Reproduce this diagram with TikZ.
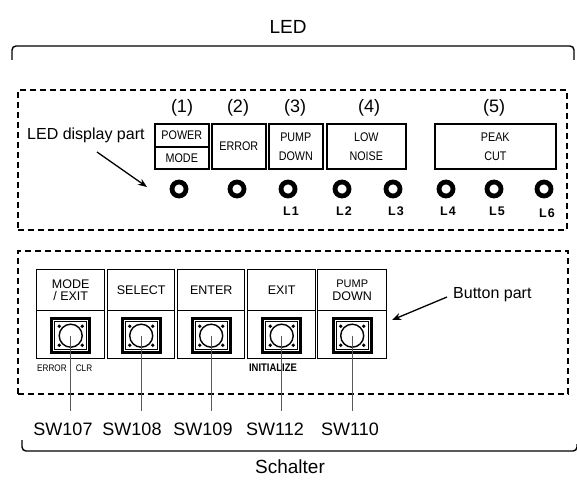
\documentclass[tikz,border=0pt]{standalone}
\usepackage{fontspec}
\setmainfont{Liberation Sans}
\newfontfamily\narrowfont[FakeStretch=0.86]{Liberation Sans}
\usetikzlibrary{arrows.meta}
\begin{document}
\begin{tikzpicture}[x=1pt,y=-1pt,
  dashbox/.style={draw, line width=2pt, dash pattern=on 6pt off 4pt, inner sep=0, anchor=north west},
  ledbox/.style={draw, line width=1.6pt, inner sep=0, anchor=north west, align=center, font=\narrowfont\fontsize{12.5}{19}\selectfont},
  num/.style={font=\fontsize{18}{20}\selectfont, inner sep=0},
  ring/.style={circle, draw, line width=4.8pt, minimum size=14pt, inner sep=0},
  lname/.style={font=\bfseries\fontsize{12.5}{14}\selectfont, inner sep=0},
  btnhead/.style={draw, line width=1.4pt, inner sep=0, anchor=north west, minimum height=41pt, align=center, font=\fontsize{12.5}{12.5}\selectfont},
  btnbody/.style={draw, line width=1.4pt, inner sep=0, anchor=north west, minimum height=48pt},
  keyouter/.style={draw, line width=2.8pt, minimum width=38pt, minimum height=34pt, inner sep=0},
  keyinner/.style={draw, line width=0.8pt, minimum width=32pt, minimum height=28pt, inner sep=0},
  keyring/.style={circle, draw, line width=1.4pt, minimum size=23pt, inner sep=0},
  swline/.style={draw=black!65, line width=1pt},
  swname/.style={font=\fontsize{18}{20}\selectfont, inner sep=0},
  bigtext/.style={font=\fontsize{19}{21}\selectfont, inner sep=0},
  midtext/.style={font=\fontsize{16}{18}\selectfont, inner sep=0},
  brace/.style={draw, line width=1.4pt, rounded corners=4pt},
  pointer/.style={draw, line width=1.3pt, -{Stealth[length=9pt,width=7pt]}}
]
\useasboundingbox (0,0) rectangle (577,481);

% top label and bracket
\node[bigtext] (ledtitle) at (288,27) {LED};
\draw[brace] (12,60) -- (12,46) -- (574,46) -- (574,60);

% LED display part
\node[dashbox, minimum width=549pt, minimum height=140pt] (ledpart) at (17,89) {};
\node[midtext, anchor=west] (ledlabel) at (27,135) {LED display part};
\coordinate (ledarrowstart) at (97,152);
\coordinate (ledarrowend) at (147,187);
\draw[pointer] (ledarrowstart) -- (ledarrowend);

\node[num] (n1) at (182,108) {(1)};
\node[num] (n2) at (238,108) {(2)};
\node[num] (n3) at (295,108) {(3)};
\node[num] (n4) at (369,108) {(4)};
\node[num] (n5) at (494,108) {(5)};

\node[ledbox, minimum width=54pt, minimum height=23pt] (power) at (154,123) {POWER};
\node[ledbox, minimum width=54pt, minimum height=22pt] (mode) at (154,146) {MODE};
\node[ledbox, minimum width=54pt, minimum height=45pt] (error) at (211,123) {ERROR};
\node[ledbox, minimum width=54pt, minimum height=45pt] (pump) at (268,123) {PUMP\\DOWN};
\node[ledbox, minimum width=79pt, minimum height=45pt] (low) at (326,123) {LOW\\NOISE};
\node[ledbox, minimum width=121pt, minimum height=45pt] (peak) at (434,123) {PEAK\\CUT};

\node[ring] (r0) at (179,189) {};
\node[ring] (r00) at (237,189) {};
\node[ring] (r1) at (288,189) {};
\node[ring] (r2) at (342,189) {};
\node[ring] (r3) at (393,189) {};
\node[ring] (r4) at (446,189) {};
\node[ring] (r5) at (494,189) {};
\node[ring] (r6) at (544,189) {};
\node[lname] (l1) at (291,211) {L\kern1pt1};
\node[lname] (l2) at (344,211) {L\kern1pt2};
\node[lname] (l3) at (396,211) {L\kern1pt3};
\node[lname] (l4) at (448,211) {L\kern1pt4};
\node[lname] (l5) at (497,211) {L\kern1pt5};
\node[lname] (l6) at (547,213) {L\kern1pt6};

% Button part
\node[dashbox, minimum width=550pt, minimum height=143pt] (btnpart) at (17,250) {};
\node[midtext, anchor=west] (btnlabel) at (453,295) {Button part};
\coordinate (btnarrowend) at (392,320);
\draw[pointer] (btnlabel.west) ++(-6,2) -- (btnarrowend);

\foreach \i/\xl/\w/\txt/\sw/\swx in {1/36/68/{MODE\\/ EXIT}/SW107/63, 2/107/67/SELECT/SW108/132, 3/177/67/ENTER/SW109/203, 4/247/68/EXIT/SW112/275, 5/317/69/{\fontsize{11}{13}\selectfont PUMP\\DOWN}/SW110/350}{
  \node[btnhead, minimum width=\w pt] (bh\i) at (\xl,269) {\txt};
  \node[btnbody, minimum width=\w pt] (bb\i) at (\xl,310) {};
  \node[keyouter] (ko\i) at ([yshift=-1pt]bb\i.center) {};
  \node[keyinner] (ki\i) at (ko\i.center) {};
  \node[keyring] (kr\i) at (ko\i.center) {};
  \foreach \dx/\dy in {-11.5/-9.5, 11.5/-9.5, -11.5/9.5, 11.5/9.5}
    \fill ([shift={(\dx,\dy)}]ko\i.center) circle (1.9pt);
  \node[swname] (sw\i) at (\swx,429) {\sw};
  \coordinate (se\i) at (kr\i.center |- 0,411);
}

\node[font=\narrowfont\fontsize{9.5}{10}\selectfont, inner sep=0] (errtxt) at (52,368) {ERROR};
\node[font=\narrowfont\fontsize{9.5}{10}\selectfont, inner sep=0] (clrtxt) at (84,368) {CLR};
\node[font=\narrowfont\bfseries\fontsize{11}{12}\selectfont, inner sep=0] (inittxt) at (273,368) {INITIALIZE};

\foreach \i in {1,...,5}
  \draw[swline] (kr\i.center) -- (se\i);

% bottom bracket
\draw[brace] (22,440) -- (22,451) -- (577,451) -- (577,444);
\node[bigtext] (schalter) at (290,467) {Schalter};
\end{tikzpicture}
\end{document}
